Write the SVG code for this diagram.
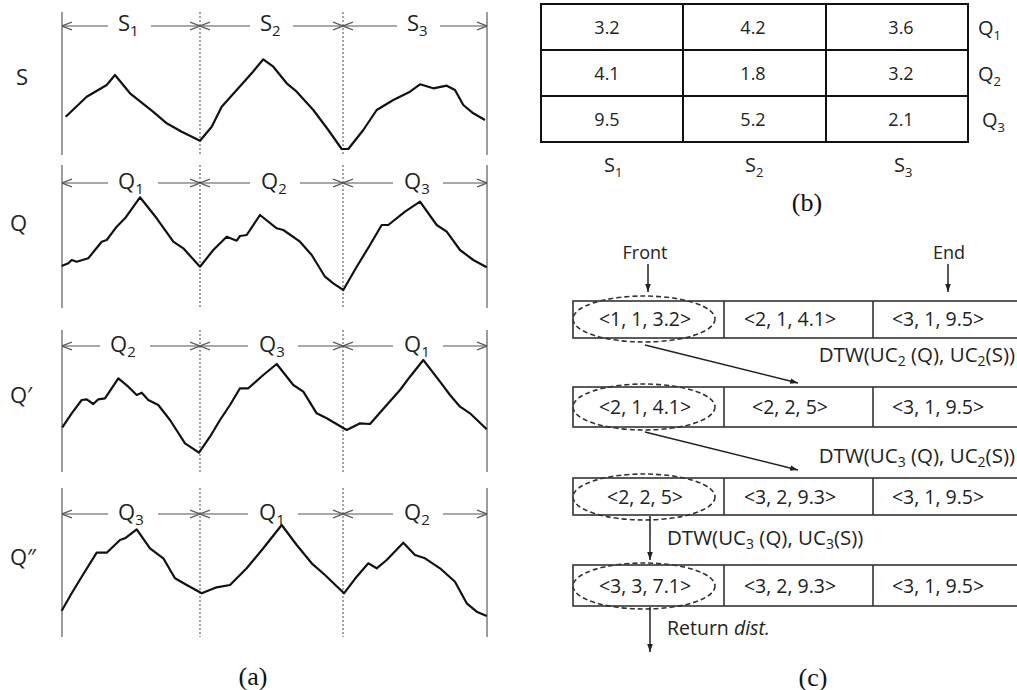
<svg xmlns="http://www.w3.org/2000/svg" width="1017" height="690" viewBox="0 0 1017 690">
<style>
.t{font-family:"Open Sans","Noto Sans","DejaVu Sans",sans-serif;fill:#222}
.lab{font-size:22px}
.sub{font-size:15px}
.cap{font-family:"Liberation Serif",serif;font-size:26px;fill:#111;text-anchor:middle}
.wave{fill:none;stroke:#111;stroke-width:2.2;stroke-linejoin:round}
.vs{stroke:#666;stroke-width:1.3}
.vd{stroke:#666;stroke-width:1.2;stroke-dasharray:2,2}
.dim{stroke:#555;stroke-width:1.2;fill:none}
.cell{font-size:18px;text-anchor:middle}
.q{font-size:19.5px;text-anchor:middle}
.box{fill:none;stroke:#333;stroke-width:1.6}
.ell{fill:none;stroke:#333;stroke-width:1.6;stroke-dasharray:5,3}
.arr{stroke:#222;stroke-width:1.5;fill:none}
</style>
<defs>
<marker id="open" viewBox="0 0 10 10" refX="10" refY="5" markerWidth="10" markerHeight="10" markerUnits="userSpaceOnUse" orient="auto-start-reverse">
<path d="M0,1 L10,5 L0,9" fill="none" stroke="#555" stroke-width="1.2"/>
</marker>
<marker id="fill" viewBox="0 0 10 10" refX="10" refY="5" markerWidth="8" markerHeight="8" markerUnits="userSpaceOnUse" orient="auto">
<path d="M0,1.5 L10,5 L0,8.5 z" fill="#222"/>
</marker>
</defs>

<!-- Panel (a) -->
<g id="panel-a">
<g id="guides">
<line class="vs" x1="62" y1="12" x2="62" y2="155"/><line class="vd" x1="200" y1="12" x2="200" y2="155"/><line class="vd" x1="343" y1="12" x2="343" y2="155"/><line class="vs" x1="487" y1="12" x2="487" y2="155"/>
<line class="vs" x1="62" y1="165" x2="62" y2="308"/><line class="vd" x1="200" y1="165" x2="200" y2="308"/><line class="vd" x1="343" y1="165" x2="343" y2="308"/><line class="vs" x1="487" y1="165" x2="487" y2="308"/>
<line class="vs" x1="62" y1="330" x2="62" y2="472"/><line class="vd" x1="200" y1="330" x2="200" y2="472"/><line class="vd" x1="343" y1="330" x2="343" y2="472"/><line class="vs" x1="487" y1="330" x2="487" y2="472"/>
<line class="vs" x1="62" y1="488" x2="62" y2="637"/><line class="vd" x1="200" y1="488" x2="200" y2="637"/><line class="vd" x1="343" y1="488" x2="343" y2="637"/><line class="vs" x1="487" y1="488" x2="487" y2="637"/>
</g>
<g id="dims">
<line class="dim" x1="62" y1="26" x2="108" y2="26" marker-start="url(#open)"/><line class="dim" x1="151" y1="26" x2="200" y2="26" marker-end="url(#open)"/>
<line class="dim" x1="200" y1="26" x2="250" y2="26" marker-start="url(#open)"/><line class="dim" x1="293" y1="26" x2="343" y2="26" marker-end="url(#open)"/>
<line class="dim" x1="343" y1="26" x2="397" y2="26" marker-start="url(#open)"/><line class="dim" x1="440" y1="26" x2="487" y2="26" marker-end="url(#open)"/>

<line class="dim" x1="62" y1="183" x2="108" y2="183" marker-start="url(#open)"/><line class="dim" x1="158" y1="183" x2="200" y2="183" marker-end="url(#open)"/>
<line class="dim" x1="200" y1="183" x2="250" y2="183" marker-start="url(#open)"/><line class="dim" x1="300" y1="183" x2="343" y2="183" marker-end="url(#open)"/>
<line class="dim" x1="343" y1="183" x2="393" y2="183" marker-start="url(#open)"/><line class="dim" x1="443" y1="183" x2="487" y2="183" marker-end="url(#open)"/>

<line class="dim" x1="62" y1="346" x2="100" y2="346" marker-start="url(#open)"/><line class="dim" x1="150" y1="346" x2="200" y2="346" marker-end="url(#open)"/>
<line class="dim" x1="200" y1="346" x2="248" y2="346" marker-start="url(#open)"/><line class="dim" x1="298" y1="346" x2="343" y2="346" marker-end="url(#open)"/>
<line class="dim" x1="343" y1="346" x2="393" y2="346" marker-start="url(#open)"/><line class="dim" x1="443" y1="346" x2="487" y2="346" marker-end="url(#open)"/>

<line class="dim" x1="62" y1="514" x2="108" y2="514" marker-start="url(#open)"/><line class="dim" x1="158" y1="514" x2="200" y2="514" marker-end="url(#open)"/>
<line class="dim" x1="200" y1="514" x2="248" y2="514" marker-start="url(#open)"/><line class="dim" x1="298" y1="514" x2="343" y2="514" marker-end="url(#open)"/>
<line class="dim" x1="343" y1="514" x2="393" y2="514" marker-start="url(#open)"/><line class="dim" x1="443" y1="514" x2="487" y2="514" marker-end="url(#open)"/>
</g>
<g id="dim-labels" class="t lab">
<text x="118" y="31">S<tspan class="sub" dy="5">1</tspan></text>
<text x="260" y="31">S<tspan class="sub" dy="5">2</tspan></text>
<text x="407" y="31">S<tspan class="sub" dy="5">3</tspan></text>
<text x="118" y="189">Q<tspan class="sub" dy="5">1</tspan></text>
<text x="261" y="189">Q<tspan class="sub" dy="5">2</tspan></text>
<text x="404" y="189">Q<tspan class="sub" dy="5">3</tspan></text>
<text x="110" y="352">Q<tspan class="sub" dy="5">2</tspan></text>
<text x="259" y="352">Q<tspan class="sub" dy="5">3</tspan></text>
<text x="404" y="352">Q<tspan class="sub" dy="5">1</tspan></text>
<text x="118" y="520">Q<tspan class="sub" dy="5">3</tspan></text>
<text x="259" y="520">Q<tspan class="sub" dy="5">1</tspan></text>
<text x="404" y="520">Q<tspan class="sub" dy="5">2</tspan></text>
</g>
<g id="row-labels" class="t" font-size="22">
<text x="16" y="85">S</text>
<text x="10" y="231">Q</text>
<text x="10" y="403">Q′</text>
<text x="10" y="565">Q″</text>
</g>
<g id="waves">
<path class="wave" d="M65.7,116.7 L86.7,96.7 L106.7,85 L115,75 L130,93.3 L153,111.7 L166.7,123.3 L181.7,131.7 L200,140.7 L211.7,126.7 L221.7,106.7 L236.7,90 L253,71.7 L263.3,59.3 L273.3,66.7 L286.7,83.3 L296.7,91.7 L313.3,110 L328.3,130 L341.7,149 L348.3,149 L363.3,130 L376.7,110 L393.3,100 L410,91.7 L420,84.3 L433.3,88.3 L446.7,85.7 L455,90 L463.3,105 L473.3,113.3 L485,120"/>
<path class="wave" d="M61.7,266 L68.3,263.3 L71.7,260 L76.7,261.7 L88.3,258.3 L101.7,241.7 L106.7,240 L116.7,226.7 L125,218.3 L140,197.3 L156.7,218.3 L173.3,241.7 L183.3,248.3 L200,266.7 L213.3,250 L226.7,236.7 L236.7,240.7 L240,236 L246.7,235 L260,215 L276.7,228.3 L283.3,230 L300,241.7 L311.7,255 L325,276.7 L333.3,283.3 L343.3,290 L356.7,266.7 L370,245 L381.7,225 L388.3,225 L405,211.7 L420,201.7 L436.7,225 L446.7,231.7 L460,250 L473.3,260 L486.7,267.3"/>
<path class="wave" d="M62.3,427.3 L71.7,413.3 L81.7,400 L86.7,399.3 L93.3,404 L98.3,399.3 L105,398.3 L118.3,378.3 L128.3,386.7 L136.7,395 L141.7,392.7 L148.3,400 L158.3,405 L170,420 L185,443.3 L199,452.7 L210,436.7 L220,420 L230,405 L240,388.3 L248.3,388.3 L263.3,375 L276.7,364 L293.3,385 L303.3,391.7 L316.7,413.3 L326.7,418.3 L346.7,430 L356.7,425 L360,423.3 L370,424 L386.7,405 L400,390 L410,376.7 L423.3,360 L440,381.7 L450,395 L460,406.7 L470,413.3 L486.7,429.3"/>
<path class="wave" d="M61.7,610.7 L71.7,593.3 L81.7,576.7 L96.7,552.7 L106.7,552.7 L120,540 L125,538.3 L136.7,529.3 L150,548.3 L163.3,558.3 L175,578.3 L186.7,585 L201.7,593.3 L216.7,587.3 L230,585 L246.7,568.3 L263.3,548.3 L281.7,525 L296.7,545 L311.7,563.3 L325,575 L344,593.3 L356.7,576.7 L368.3,563.3 L376.7,568.3 L386.7,560 L403.3,542.7 L415,555 L425,558.3 L440,568.3 L455,581.7 L466.7,603.3 L476.7,611.7 L486.7,616"/>
</g>
<text class="cap" x="253" y="685">(a)</text>
</g>

<!-- Panel (b) -->
<g id="panel-b">
<g id="table">
<rect x="541" y="4" width="427" height="138" fill="none" stroke="#111" stroke-width="2"/>
<line x1="541" y1="50" x2="968" y2="50" stroke="#111" stroke-width="2"/>
<line x1="541" y1="96" x2="968" y2="96" stroke="#111" stroke-width="2"/>
<line x1="683" y1="4" x2="683" y2="142" stroke="#111" stroke-width="2"/>
<line x1="826" y1="4" x2="826" y2="142" stroke="#111" stroke-width="2"/>
</g>
<g id="cells" class="t cell">
<text x="607" y="34">3.2</text><text x="753" y="34">4.2</text><text x="901" y="34">3.6</text>
<text x="607" y="80">4.1</text><text x="753" y="80">1.8</text><text x="901" y="80">3.2</text>
<text x="607" y="126">9.5</text><text x="753" y="126">5.2</text><text x="901" y="126">2.1</text>
</g>
<g id="table-labels" class="t" font-size="20">
<text x="978" y="35">Q<tspan font-size="13" dy="5">1</tspan></text>
<text x="978" y="81">Q<tspan font-size="13" dy="5">2</tspan></text>
<text x="982" y="127">Q<tspan font-size="13" dy="5">3</tspan></text>
<text x="604" y="172">S<tspan font-size="13" dy="5">1</tspan></text>
<text x="745" y="172">S<tspan font-size="13" dy="5">2</tspan></text>
<text x="894" y="172">S<tspan font-size="13" dy="5">3</tspan></text>
</g>
<text class="cap" x="807" y="211">(b)</text>
</g>

<!-- Panel (c) -->
<g id="panel-c">
<g id="pointers" class="t" font-size="18">
<text x="645" y="259" text-anchor="middle">Front</text>
<text x="949" y="259" text-anchor="middle">End</text>
</g>
<g id="queue1">
<rect class="box" x="573" y="301" width="450" height="37"/>
<line class="box" x1="724" y1="301" x2="724" y2="338"/><line class="box" x1="873" y1="301" x2="873" y2="338"/>
<ellipse class="ell" cx="644" cy="319" rx="71" ry="23"/>
<g class="t q"><text x="645" y="326">&lt;1, 1, 3.2&gt;</text><text x="790" y="326">&lt;2, 1, 4.1&gt;</text><text x="938" y="326">&lt;3, 1, 9.5&gt;</text></g>
</g>
<g id="queue2">
<rect class="box" x="573" y="387" width="450" height="40"/>
<line class="box" x1="724" y1="387" x2="724" y2="427"/><line class="box" x1="873" y1="387" x2="873" y2="427"/>
<ellipse class="ell" cx="644" cy="407" rx="71" ry="23"/>
<g class="t q"><text x="645" y="414">&lt;2, 1, 4.1&gt;</text><text x="790" y="414">&lt;2, 2, 5&gt;</text><text x="938" y="414">&lt;3, 1, 9.5&gt;</text></g>
</g>
<g id="queue3">
<rect class="box" x="573" y="478" width="450" height="37"/>
<line class="box" x1="724" y1="478" x2="724" y2="515"/><line class="box" x1="873" y1="478" x2="873" y2="515"/>
<ellipse class="ell" cx="644" cy="497" rx="71" ry="23"/>
<g class="t q"><text x="645" y="504">&lt;2, 2, 5&gt;</text><text x="790" y="504">&lt;3, 2, 9.3&gt;</text><text x="938" y="504">&lt;3, 1, 9.5&gt;</text></g>
</g>
<g id="queue4">
<rect class="box" x="573" y="565" width="450" height="41"/>
<line class="box" x1="724" y1="565" x2="724" y2="606"/><line class="box" x1="873" y1="565" x2="873" y2="606"/>
<ellipse class="ell" cx="644" cy="586" rx="71" ry="23"/>
<g class="t q"><text x="645" y="593">&lt;3, 3, 7.1&gt;</text><text x="790" y="593">&lt;3, 2, 9.3&gt;</text><text x="938" y="593">&lt;3, 1, 9.5&gt;</text></g>
</g>
<g id="connectors">
<line class="arr" x1="648" y1="264" x2="648" y2="292" marker-end="url(#fill)"/>
<line class="arr" x1="948" y1="264" x2="948" y2="292" marker-end="url(#fill)"/>
<line class="arr" x1="645" y1="345" x2="798" y2="383" marker-end="url(#fill)"/>
<line class="arr" x1="645" y1="432" x2="798" y2="470" marker-end="url(#fill)"/>
<line class="arr" x1="650" y1="516" x2="650" y2="560" marker-end="url(#fill)"/>
<line class="arr" x1="650" y1="607" x2="650" y2="652" marker-end="url(#fill)"/>
</g>
<g id="edge-labels" class="t" font-size="20.5">
<text x="1015" y="362" text-anchor="end">DTW(UC<tspan font-size="14" dy="4">2</tspan><tspan dy="-4"> (Q), UC</tspan><tspan font-size="14" dy="4">2</tspan><tspan dy="-4">(S))</tspan></text>
<text x="1015" y="463" text-anchor="end">DTW(UC<tspan font-size="14" dy="4">3</tspan><tspan dy="-4"> (Q), UC</tspan><tspan font-size="14" dy="4">2</tspan><tspan dy="-4">(S))</tspan></text>
<text x="667" y="545">DTW(UC<tspan font-size="14" dy="4">3</tspan><tspan dy="-4"> (Q), UC</tspan><tspan font-size="14" dy="4">3</tspan><tspan dy="-4">(S))</tspan></text>
<text x="667" y="635" font-size="19.5">Return <tspan font-style="italic">dist.</tspan></text>
</g>
<text class="cap" x="813" y="686">(c)</text>
</g>
</svg>
